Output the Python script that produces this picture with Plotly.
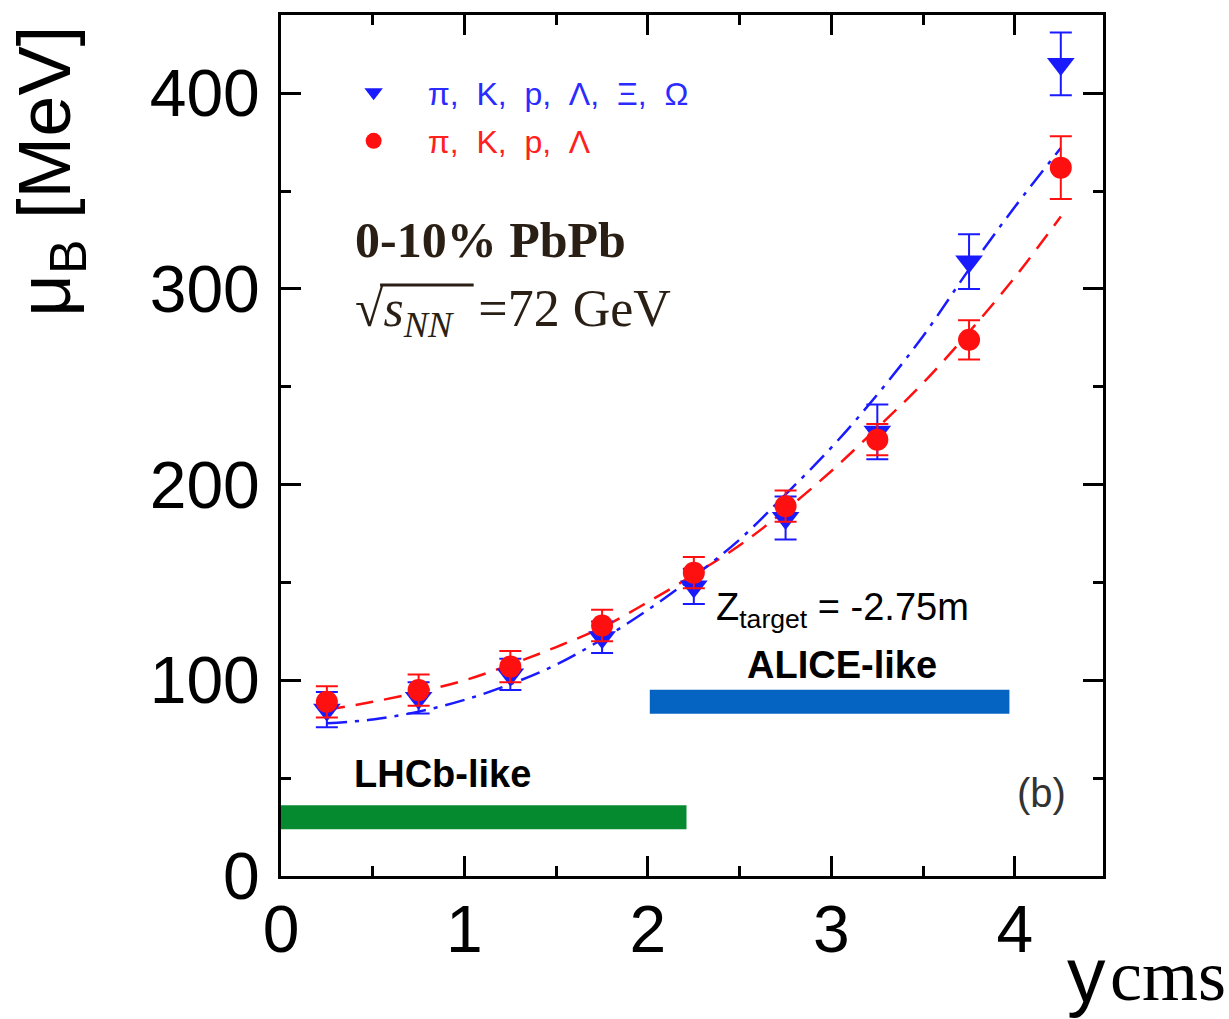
import plotly.graph_objects as go

# ---- data ----
y_cms = [0.25, 0.75, 1.25, 1.75, 2.25, 2.75, 3.25, 3.75, 4.25]
mu_all = [85, 91, 103, 122, 148, 183, 227, 314, 415]
err_all = [9, 8, 8, 8, 9, 11, 14, 14, 16]
mu_four = [89, 95, 107, 128, 155, 189, 223, 274, 362]
err_four = [8, 8, 8, 8, 8, 8, 8, 10, 16]

fit_x = [0.25, 0.5, 0.75, 1.0, 1.25, 1.5, 1.75, 2.0, 2.25, 2.5, 2.75, 3.0, 3.25, 3.5, 3.75, 4.0, 4.25]
fit_all = [78, 80, 84, 90, 98, 108, 121, 136, 153, 172, 195, 219, 246, 276, 310, 342, 372]
fit_four = [85, 89, 94, 100, 108, 117, 127, 140, 154, 169, 187, 207, 229, 252, 278, 306, 337]

lhcb_range = [0.0, 2.21]
lhcb_level = [30, 30]
alice_range = [2.01, 3.97]
alice_level = [89, 89]

x_ticks = [0, 1, 2, 3, 4]
y_ticks = [0, 100, 200, 300, 400]

BLUE = "#1a1aff"
RED = "#ff1010"
TXT = "#2a1f14"
SANS = "Liberation Sans, Arial, sans-serif"
SERIF = "Liberation Serif, Times New Roman, serif"
SP = ",\u00a0 "

fig = go.Figure()

# coverage bars
fig.add_trace(go.Scatter(x=lhcb_range, y=lhcb_level, mode="lines",
                         line=dict(color="#058a2f", width=24), showlegend=False, hoverinfo="skip"))
fig.add_trace(go.Scatter(x=alice_range, y=alice_level, mode="lines",
                         line=dict(color="#0563c1", width=24), showlegend=False, hoverinfo="skip"))

# fit curves
fig.add_trace(go.Scatter(x=fit_x, y=fit_four, mode="lines", line_shape="spline",
                         line=dict(color=RED, width=2.5, dash="18px,11px"), showlegend=False))
fig.add_trace(go.Scatter(x=fit_x, y=fit_all, mode="lines", line_shape="spline",
                         line=dict(color=BLUE, width=2.5, dash="20px,8px,4px,8px"), showlegend=False))

# data
fig.add_trace(go.Scatter(x=y_cms, y=mu_all, mode="markers", legendgroup="a",
                         name="<span style='color:#2b2bff'>" + SP.join(["π", "K", "p", "Λ", "Ξ", "Ω"]) + "</span>",
                         marker=dict(symbol="triangle-down", size=24, color=BLUE),
                         error_y=dict(type="data", array=err_all, color=BLUE, thickness=2, width=11)))
fig.add_trace(go.Scatter(x=y_cms, y=mu_four, mode="markers", legendgroup="b",
                         name="<span style='color:#ff2020'>" + SP.join(["π", "K", "p", "Λ"]) + "</span>",
                         marker=dict(symbol="circle", size=22, color=RED),
                         error_y=dict(type="data", array=err_four, color=RED, thickness=2, width=11)))

axis_common = dict(showline=True, linecolor="black", linewidth=3, mirror="allticks",
                   ticks="inside", ticklen=20, tickwidth=3, tickcolor="black",
                   showgrid=False, zeroline=False,
                   tickfont=dict(family=SANS, size=66, color="black"))

fig.update_xaxes(range=[0, 4.48], tickvals=x_ticks, ticktext=[str(v) for v in x_ticks],
                 minor=dict(dtick=0.5, ticks="inside", ticklen=10, tickwidth=3, tickcolor="black"),
                 ticklabelstandoff=-6, **axis_common)
fig.update_yaxes(range=[0, 440], tickvals=y_ticks, ticktext=[str(v) for v in y_ticks],
                 minor=dict(dtick=50, ticks="inside", ticklen=10, tickwidth=3, tickcolor="black"),
                 ticklabelstandoff=5, **axis_common)

annotations = [
    dict(x=0.88, y=52, xref="x", yref="y", text="<b>LHCb-like</b>", showarrow=False,
         font=dict(family=SANS, size=38, color="black")),
    dict(x=3.06, y=108, xref="x", yref="y", text="<b>ALICE-like</b>", showarrow=False,
         font=dict(family=SANS, size=38, color="black")),
    dict(x=3.06, y=136, xref="x", yref="y", text="Z<sub>target</sub> = -2.75m", showarrow=False,
         font=dict(family=SANS, size=38, color="black")),
    dict(x=4.147, y=42.5, xref="x", yref="y", text="(b)", showarrow=False,
         font=dict(family=SANS, size=40, color="#333333")),
    dict(x=0.39, y=325, xref="x", yref="y", xanchor="left", text="<b>0-10% PbPb</b>", showarrow=False,
         font=dict(family=SERIF, size=50, color=TXT)),
    dict(x=0.39, y=288, xref="x", yref="y", xanchor="left",
         text="√<i>s<sub>NN</sub></i>\u00a0 =72 GeV",
         showarrow=False, font=dict(family=SERIF, size=52, color=TXT)),
    dict(x=-0.281, y=0.818, xref="paper", yref="paper", xanchor="center", yanchor="middle",
         text="μ<sub>B</sub> [MeV]", textangle=-90,
         showarrow=False, font=dict(family=SANS, size=74, color="black")),
    dict(x=0.9805, y=-0.167, xref="paper", yref="paper", xanchor="center", yanchor="bottom",
         text="y", showarrow=False, font=dict(family=SANS, size=77, color="black")),
    dict(x=1.006, y=-0.165, xref="paper", yref="paper", xanchor="left", yanchor="bottom",
         text="cms", showarrow=False, font=dict(family=SERIF, size=72, color="black")),
]

# radical bar over s_NN
shapes = [dict(type="line", xref="x", yref="y", x0=0.54, x1=1.05, y0=302, y1=302,
               line=dict(color=TXT, width=3))]

fig.update_layout(
    width=1229, height=1019,
    margin=dict(l=281, r=126, t=15, b=143),
    paper_bgcolor="white", plot_bgcolor="white",
    showlegend=True,
    legend=dict(x=0.047, y=0.942, xanchor="left", yanchor="top", bgcolor="rgba(0,0,0,0)",
                font=dict(family=SANS, size=32), itemwidth=98, tracegroupgap=4),
    annotations=annotations,
    shapes=shapes,
)

fig.write_html("out.html")
